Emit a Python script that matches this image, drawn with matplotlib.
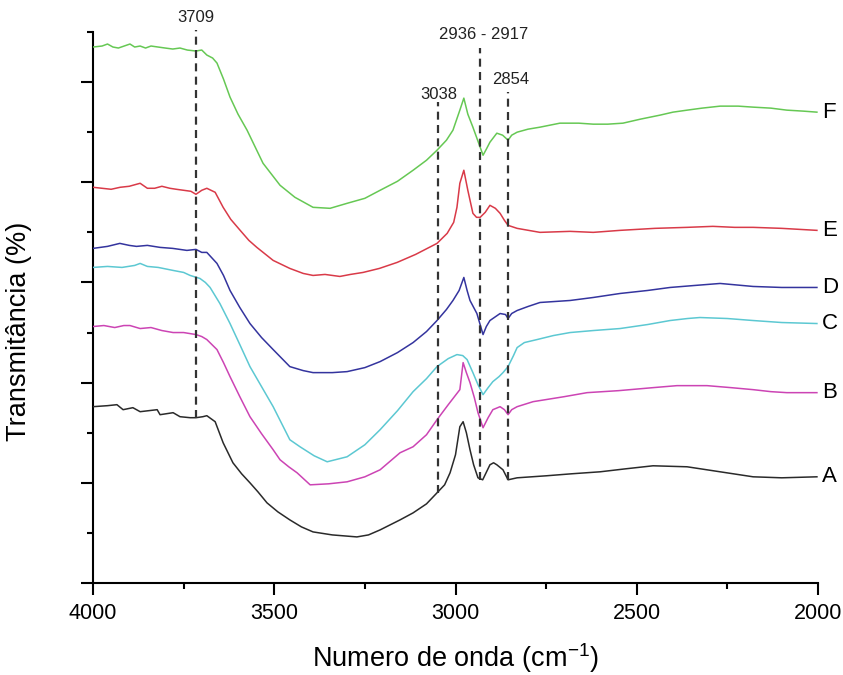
import matplotlib
matplotlib.use('Agg')
import matplotlib.pyplot as plt
from matplotlib.ticker import MultipleLocator, NullFormatter

plt.rcParams['font.family'] = ['Liberation Sans', 'DejaVu Sans']
plt.rcParams['mathtext.fontset'] = 'custom'
plt.rcParams['mathtext.rm'] = 'Liberation Sans'
plt.rcParams['mathtext.it'] = 'Liberation Sans:italic'
plt.rcParams['mathtext.default'] = 'regular'

# ---------------- data (wavenumber, transmittance in arbitrary offset units) ----------------
wn_F = [4000, 3975, 3960, 3945, 3930, 3898, 3885, 3870, 3855, 3840,
        3801, 3780, 3760, 3740, 3716, 3700, 3686, 3670, 3658, 3640,
        3622, 3600, 3575, 3531, 3484, 3443, 3393, 3346, 3299, 3250,
        3208, 3160, 3117, 3080, 3051, 3025, 3007, 2988, 2977, 2966,
        2952, 2935, 2924, 2915, 2905, 2886, 2870, 2855, 2845, 2830,
        2800, 2767, 2712, 2660, 2620, 2580, 2538, 2490, 2436, 2400,
        2361, 2320, 2270, 2220, 2179, 2130, 2086, 2040, 2003]
val_F = [5.35, 5.36, 5.38, 5.35, 5.34, 5.38, 5.35, 5.36, 5.34, 5.36,
         5.34, 5.33, 5.34, 5.32, 5.31, 5.32, 5.27, 5.24, 5.19, 5.03,
         4.85, 4.68, 4.52, 4.19, 3.97, 3.85, 3.75, 3.74, 3.79, 3.84,
         3.92, 4.01, 4.12, 4.22, 4.32, 4.42, 4.52, 4.72, 4.84, 4.68,
         4.55, 4.38, 4.27, 4.33, 4.40, 4.49, 4.47, 4.42, 4.47, 4.50,
         4.53, 4.55, 4.59, 4.59, 4.58, 4.58, 4.59, 4.63, 4.67, 4.70,
         4.72, 4.74, 4.76, 4.76, 4.75, 4.74, 4.72, 4.71, 4.70]

wn_E = [4000, 3975, 3950, 3925, 3900, 3870, 3850, 3830, 3810, 3788,
        3770, 3750, 3730, 3716, 3700, 3686, 3663, 3641, 3620, 3594,
        3570, 3548, 3503, 3457, 3420, 3393, 3360, 3319, 3290, 3255,
        3210, 3161, 3110, 3051, 3023, 3005, 2996, 2988, 2977, 2966,
        2952, 2942, 2932, 2918, 2905, 2890, 2877, 2865, 2855, 2830,
        2767, 2684, 2620, 2546, 2450, 2361, 2290, 2230, 2179, 2100,
        2003]
val_E = [3.95, 3.94, 3.93, 3.95, 3.96, 3.99, 3.94, 3.94, 3.96, 3.94,
         3.93, 3.92, 3.91, 3.88, 3.92, 3.94, 3.90, 3.75, 3.63, 3.52,
         3.42, 3.35, 3.22, 3.14, 3.09, 3.07, 3.08, 3.06, 3.08, 3.10,
         3.14, 3.20, 3.28, 3.39, 3.49, 3.60, 3.75, 3.99, 4.12, 3.92,
         3.69, 3.65, 3.65, 3.70, 3.77, 3.74, 3.69, 3.62, 3.57, 3.54,
         3.50, 3.51, 3.50, 3.52, 3.54, 3.55, 3.56, 3.55, 3.55, 3.54,
         3.52]

wn_D = [4000, 3960, 3926, 3900, 3880, 3850, 3815, 3780, 3741, 3716,
        3700, 3686, 3658, 3640, 3622, 3595, 3567, 3535, 3503, 3457,
        3420, 3393, 3340, 3299, 3250, 3208, 3160, 3117, 3080, 3051,
        3025, 3007, 2990, 2977, 2968, 2960, 2941, 2924, 2915, 2905,
        2877, 2862, 2855, 2845, 2830, 2800, 2767, 2684, 2620, 2546,
        2470, 2408, 2340, 2270, 2179, 2100, 2003]
val_D = [3.34, 3.36, 3.39, 3.37, 3.36, 3.37, 3.35, 3.34, 3.32, 3.33,
         3.30, 3.30, 3.19, 3.07, 2.92, 2.75, 2.59, 2.45, 2.33, 2.16,
         2.12, 2.10, 2.10, 2.11, 2.15, 2.21, 2.30, 2.40, 2.51, 2.62,
         2.73, 2.82, 2.92, 3.05, 2.92, 2.82, 2.69, 2.48, 2.56, 2.62,
         2.69, 2.68, 2.64, 2.69, 2.72, 2.76, 2.80, 2.82, 2.85, 2.89,
         2.92, 2.95, 2.97, 2.99, 2.96, 2.95, 2.95]

wn_C = [4000, 3960, 3920, 3885, 3870, 3850, 3820, 3779, 3750, 3732,
        3705, 3690, 3677, 3650, 3622, 3595, 3567, 3535, 3503, 3457,
        3429, 3390, 3354, 3299, 3250, 3208, 3160, 3117, 3080, 3051,
        3020, 2996, 2980, 2968, 2952, 2938, 2924, 2910, 2897, 2880,
        2869, 2855, 2840, 2830, 2810, 2775, 2730, 2684, 2620, 2546,
        2470, 2408, 2360, 2326, 2250, 2179, 2100, 2003]
val_C = [3.15, 3.16, 3.15, 3.17, 3.19, 3.16, 3.15, 3.12, 3.10, 3.07,
         3.04, 3.00, 2.95, 2.79, 2.59, 2.38, 2.16, 1.96, 1.76, 1.43,
         1.36, 1.27, 1.21, 1.26, 1.38, 1.53, 1.72, 1.91, 2.04, 2.16,
         2.24, 2.28, 2.27, 2.23, 2.10, 1.98, 1.88, 1.95, 2.01, 2.06,
         2.10, 2.16, 2.27, 2.35, 2.40, 2.43, 2.47, 2.50, 2.52, 2.54,
         2.58, 2.62, 2.64, 2.65, 2.64, 2.62, 2.60, 2.59]

wn_B = [4000, 3970, 3940, 3915, 3898, 3870, 3840, 3810, 3779, 3750,
        3716, 3700, 3686, 3658, 3640, 3622, 3595, 3567, 3535, 3503,
        3484, 3460, 3437, 3401, 3350, 3299, 3250, 3208, 3153, 3117,
        3080, 3051, 3020, 2988, 2979, 2970, 2960, 2948, 2938, 2924,
        2910, 2897, 2877, 2865, 2855, 2845, 2830, 2786, 2700, 2637,
        2550, 2455, 2389, 2306, 2240, 2179, 2130, 2086, 2003]
val_B = [2.56, 2.57, 2.55, 2.57, 2.57, 2.54, 2.55, 2.52, 2.50, 2.50,
         2.48, 2.46, 2.43, 2.33, 2.20, 2.06, 1.86, 1.66, 1.49, 1.33,
         1.23, 1.16, 1.10, 0.98, 0.99, 1.01, 1.06, 1.13, 1.30, 1.36,
         1.48, 1.63, 1.78, 1.93, 2.20, 2.10, 2.00, 1.85, 1.70, 1.55,
         1.65, 1.73, 1.76, 1.73, 1.68, 1.73, 1.76, 1.81, 1.86, 1.90,
         1.92, 1.95, 1.97, 1.97, 1.95, 1.93, 1.91, 1.90, 1.90]

wn_A = [4000, 3960, 3934, 3917, 3890, 3870, 3823, 3815, 3779, 3760,
        3732, 3716, 3697, 3686, 3663, 3641, 3614, 3590, 3567, 3545,
        3520, 3490, 3457, 3425, 3393, 3340, 3272, 3240, 3208, 3153,
        3117, 3080, 3051, 3030, 3015, 3000, 2988, 2979, 2970, 2960,
        2950, 2938, 2925, 2905, 2895, 2886, 2869, 2855, 2830, 2750,
        2680, 2601, 2530, 2455, 2361, 2270, 2179, 2100, 2003]
val_A = [1.76, 1.77, 1.78, 1.73, 1.75, 1.71, 1.73, 1.68, 1.70, 1.66,
         1.65, 1.65, 1.66, 1.67, 1.61, 1.40, 1.20, 1.09, 1.00, 0.91,
         0.80, 0.71, 0.63, 0.56, 0.51, 0.48, 0.46, 0.48, 0.53, 0.63,
         0.70, 0.79, 0.90, 0.98, 1.10, 1.28, 1.56, 1.61, 1.50, 1.33,
         1.18, 1.05, 1.03, 1.18, 1.20, 1.18, 1.13, 1.03, 1.05, 1.07,
         1.09, 1.11, 1.14, 1.17, 1.16, 1.11, 1.06, 1.05, 1.06]

series_names = ['A', 'B', 'C', 'D', 'E', 'F']
series_wn = [wn_A, wn_B, wn_C, wn_D, wn_E, wn_F]
series_val = [val_A, val_B, val_C, val_D, val_E, val_F]
series_colors = ['#2a2a2a', '#cc44b4', '#5cc8d2', '#34349e', '#d93a48', '#66c854']

# marker lines: drawn position, top, bottom, label text, label position
vline_wn = [3715, 3047, 2932, 2855]
vline_top = [5.52, 4.80, 5.34, 4.90]
vline_bottom = [1.65, 0.90, 1.03, 1.03]
vlabel_text = ['3709', '3038', '2936 - 2917', '2854']
vlabel_wn = [3715, 3047, 2923, 2848]
vlabel_val = [5.64, 4.88, 5.48, 5.03]

# ---------------- figure ----------------
fig = plt.figure(figsize=(8.43, 6.75), dpi=100)
ax = fig.add_axes([93 / 843, 1 - 583 / 675, 725 / 843, 551 / 675])

for wn, val, col in zip(series_wn, series_val, series_colors):
    assert len(wn) == len(val)
    ax.plot(wn, val, color=col, lw=1.1, zorder=3)

for name, wn, val in zip(series_names, series_wn, series_val):
    ax.annotate(name, xy=(wn[-1], val[-1]), xytext=(3.5, 0), textcoords='offset points',
                ha='left', va='center', fontsize=16, annotation_clip=False)

for x, t, b in zip(vline_wn, vline_top, vline_bottom):
    ax.plot([x, x], [b, t], color='#333333', lw=1.6, linestyle=(0, (3.6, 2.4)),
            zorder=4, clip_on=False)

for t, x, y in zip(vlabel_text, vlabel_wn, vlabel_val):
    ax.text(x, y, t, ha='center', va='center', fontsize=12, color='#222222', clip_on=False)

ax.set_xlim(4000, 2000)
ax.set_ylim(0, 5.5)
ax.xaxis.set_major_locator(MultipleLocator(500))
ax.xaxis.set_minor_locator(MultipleLocator(250))
ax.yaxis.set_major_locator(MultipleLocator(1))
ax.yaxis.set_minor_locator(MultipleLocator(0.5))
ax.yaxis.set_major_formatter(NullFormatter())

for s in ['top', 'right']:
    ax.spines[s].set_visible(False)
for s in ['left', 'bottom']:
    ax.spines[s].set_linewidth(1.5)

ax.tick_params(axis='both', which='major', direction='out', length=8.5, width=1.5,
               labelsize=15.5, pad=6)
ax.tick_params(axis='both', which='minor', direction='out', length=4.5, width=1.5)

ax.set_xlabel('Numero de onda (cm$^{-1}$)', fontsize=19.5, labelpad=12)
ax.set_ylabel('Transmitância (%)', fontsize=19.5)
ax.yaxis.set_label_coords(-0.084, 0.457)

fig.savefig('out.png', dpi=100)
